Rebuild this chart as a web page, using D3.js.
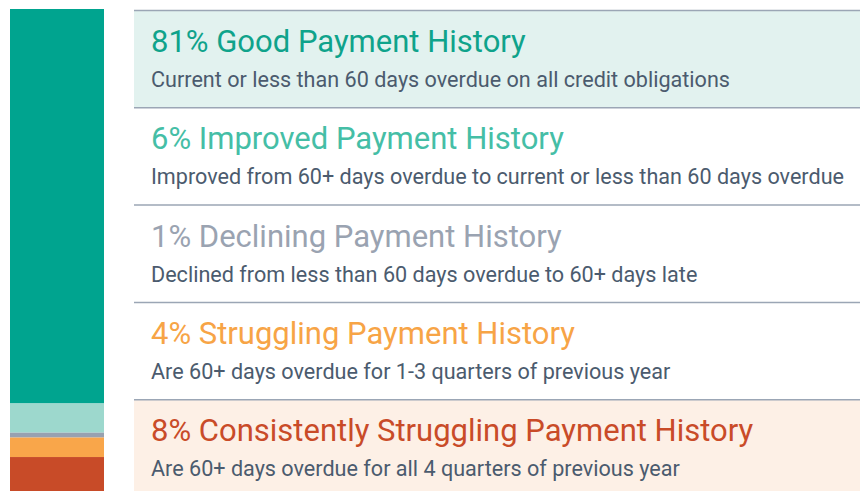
<!DOCTYPE html>
<html>
<head>
<meta charset="utf-8">
<script src="https://cdn.jsdelivr.net/npm/d3@7"></script>
<style>
  html, body { margin: 0; padding: 0; background: #ffffff; }
  svg { display: block; }
  text { font-family: Roboto, "Open Sans", sans-serif; }
</style>
</head>
<body>
<svg id="chart" width="860" height="491"></svg>
<script>
// Payment history groups, share of consumers (%)
const categories = [
  "Good Payment History",
  "Improved Payment History",
  "Declining Payment History",
  "Struggling Payment History",
  "Consistently Struggling Payment History"
];
const shares = [81, 6, 1, 4, 8];
const descriptions = [
  "Current or less than 60 days overdue on all credit obligations",
  "Improved from 60+ days overdue to current or less than 60 days overdue",
  "Declined from less than 60 days overdue to 60+ days late",
  "Are 60+ days overdue for 1-3 quarters of previous year",
  "Are 60+ days overdue for all 4 quarters of previous year"
];
const barColors = ["#00a48f", "#9dd8cd", "#98a1b0", "#f9a64a", "#c84b28"];
const titleColors = ["#0fa38b", "#45bea6", "#9aa3b1", "#f7a446", "#c94b28"];
const panelFills = ["#e2f2ef", "#ffffff", "#ffffff", "#ffffff", "#fdf0e6"];

const svg = d3.select("#chart");

// Stacked column on the left
const stacked = [];
let acc = 0;
shares.forEach((v, i) => { stacked.push({ i, y0: acc, y1: acc + v }); acc += v; });

const y = d3.scaleLinear().domain([0, 100]).range([9, 496]);

svg.append("g")
  .selectAll("rect")
  .data(stacked)
  .join("rect")
  .attr("x", 10)
  .attr("width", 94)
  .attr("y", d => y(d.y0))
  .attr("height", d => y(d.y1) - y(d.y0))
  .attr("fill", d => barColors[d.i]);

// Description panels on the right
const band = d3.scaleBand()
  .domain(d3.range(categories.length))
  .range([10, 496.5])
  .paddingInner(0);

const panelX = 134, panelW = 726;

const panels = svg.append("g")
  .selectAll("g")
  .data(categories.map((c, i) => ({ c, i })))
  .join("g")
  .attr("transform", d => `translate(${panelX},${band(d.i)})`);

panels.append("rect")
  .attr("width", panelW)
  .attr("height", band.bandwidth())
  .attr("fill", d => panelFills[d.i]);

panels.append("line")
  .attr("x1", 0).attr("x2", panelW)
  .attr("y1", 0.5).attr("y2", 0.5)
  .attr("stroke", "#9ba6b5")
  .attr("stroke-width", 1.5);

panels.append("text")
  .attr("x", 17)
  .attr("y", 42)
  .attr("font-size", 31)
  .attr("fill", d => titleColors[d.i])
  .text(d => `${shares[d.i]}% ${d.c}`);

panels.append("text")
  .attr("x", 17)
  .attr("y", 77)
  .attr("font-size", 21.6)
  .attr("fill", "#4b5b6e")
  .text(d => descriptions[d.i]);
</script>
</body>
</html>
